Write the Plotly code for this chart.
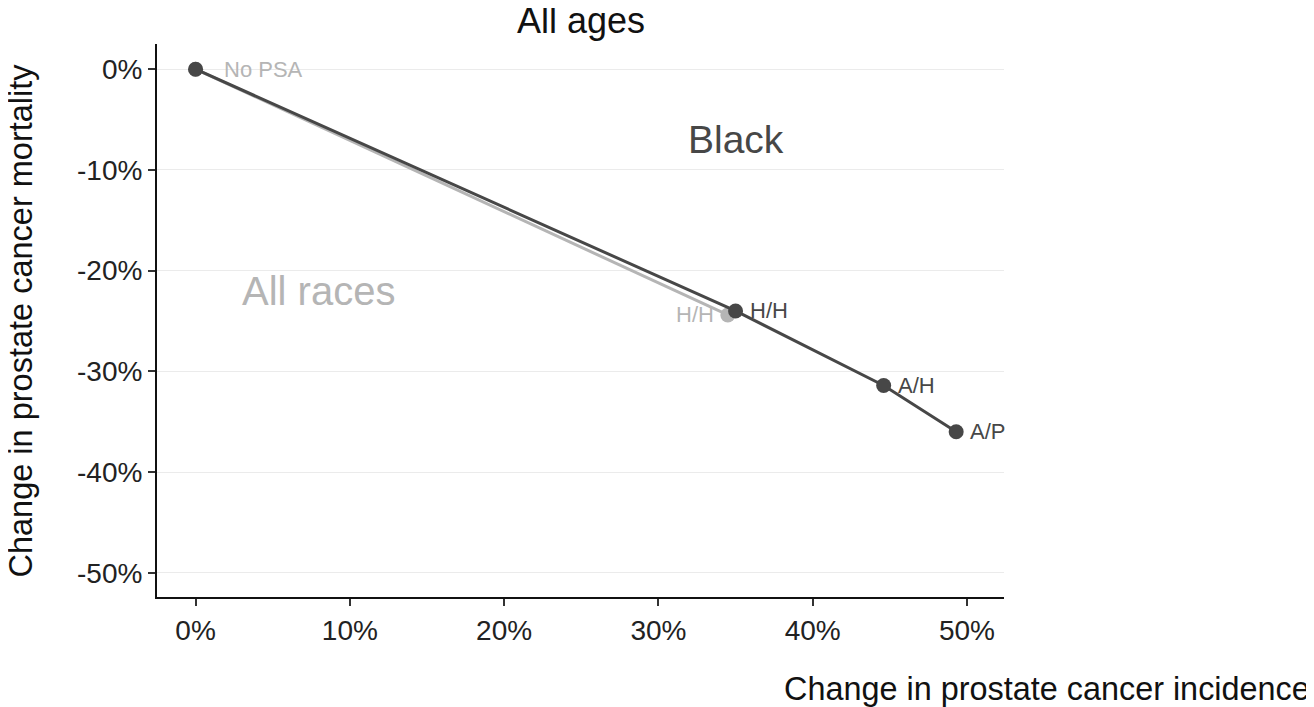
import plotly.graph_objects as go

# Data (percent change)
black_labels = ["No PSA", "H/H", "A/H", "A/P"]
black_incidence = [0.0, 35.0, 44.6, 49.3]
black_mortality = [0.0, -24.0, -31.4, -36.0]

all_labels = ["No PSA", "H/H"]
all_incidence = [0.0, 34.5]
all_mortality = [0.0, -24.4]

x_ticks = [0, 10, 20, 30, 40, 50]
y_ticks = [0, -10, -20, -30, -40, -50]

DARK = "#474747"
GRAY = "#b5b5b5"
FONT = "Liberation Sans, Arial, sans-serif"

fig = go.Figure()

fig.add_trace(go.Scatter(
    x=all_incidence, y=all_mortality, mode="lines+markers",
    line=dict(color=GRAY, width=3),
    marker=dict(color=GRAY, size=15),
    hoverinfo="skip", showlegend=False))

fig.add_trace(go.Scatter(
    x=black_incidence, y=black_mortality, mode="lines+markers",
    line=dict(color=DARK, width=3),
    marker=dict(color=DARK, size=15),
    hoverinfo="skip", showlegend=False))

# point labels
fig.add_annotation(x=all_incidence[0], y=all_mortality[0], text=all_labels[0],
                   showarrow=False, xanchor="left", yanchor="middle", xshift=26,
                   font=dict(family=FONT, size=22, color=GRAY))
fig.add_annotation(x=all_incidence[1], y=all_mortality[1], text=all_labels[1],
                   showarrow=False, xanchor="right", yanchor="middle", xshift=-12,
                   font=dict(family=FONT, size=22, color=GRAY))
for lab, xv, yv in zip(black_labels[1:], black_incidence[1:], black_mortality[1:]):
    fig.add_annotation(x=xv, y=yv, text=lab, showarrow=False,
                       xanchor="left", yanchor="middle", xshift=12,
                       font=dict(family=FONT, size=22, color=DARK))

# group labels
fig.add_annotation(x=35, y=-7, text="Black", showarrow=False,
                   xanchor="center", yanchor="middle",
                   font=dict(family=FONT, size=39, color=DARK))
fig.add_annotation(x=8, y=-22, text="All races", showarrow=False,
                   xanchor="center", yanchor="middle",
                   font=dict(family=FONT, size=40, color=GRAY))

# title and axis titles
fig.add_annotation(xref="paper", yref="paper", x=0.5, y=1, yshift=24,
                   text="All ages", showarrow=False, xanchor="center", yanchor="middle",
                   font=dict(family=FONT, size=36, color="#111"))
fig.add_annotation(xref="paper", yref="paper", x=1.0, y=0, xshift=308, yshift=-92,
                   text="Change in prostate cancer incidence", showarrow=False,
                   xanchor="right", yanchor="middle",
                   font=dict(family=FONT, size=32.4, color="#111"))
fig.add_annotation(xref="paper", yref="paper", x=0, y=0.5, xshift=-137,
                   text="Change in prostate cancer mortality", showarrow=False,
                   textangle=-90, xanchor="center", yanchor="middle",
                   font=dict(family=FONT, size=32.5, color="#111"))

fig.update_layout(
    width=1306, height=699,
    margin=dict(l=149, r=310, t=36, b=110),
    paper_bgcolor="white", plot_bgcolor="white",
    font=dict(family=FONT, color="#222"),
    xaxis=dict(range=[-2.5, 52.4], tickvals=x_ticks,
               ticktext=[f"{v}%" for v in x_ticks],
               showgrid=False, zeroline=False,
               showline=True, linecolor="#111", linewidth=2,
               ticks="outside", ticklen=7, tickwidth=1.5, tickcolor="#333",
               tickfont=dict(family=FONT, size=28, color="#222")),
    yaxis=dict(range=[-52.4, 2.5], tickvals=y_ticks,
               ticktext=[f"{v}%" for v in y_ticks],
               showgrid=True, gridcolor="#ebebeb", gridwidth=1.2,
               zeroline=False,
               showline=True, linecolor="#111", linewidth=2,
               ticks="outside", ticklen=7, tickwidth=1.5, tickcolor="#333",
               tickfont=dict(family=FONT, size=28, color="#222")),
)

fig.write_html("out.html")
